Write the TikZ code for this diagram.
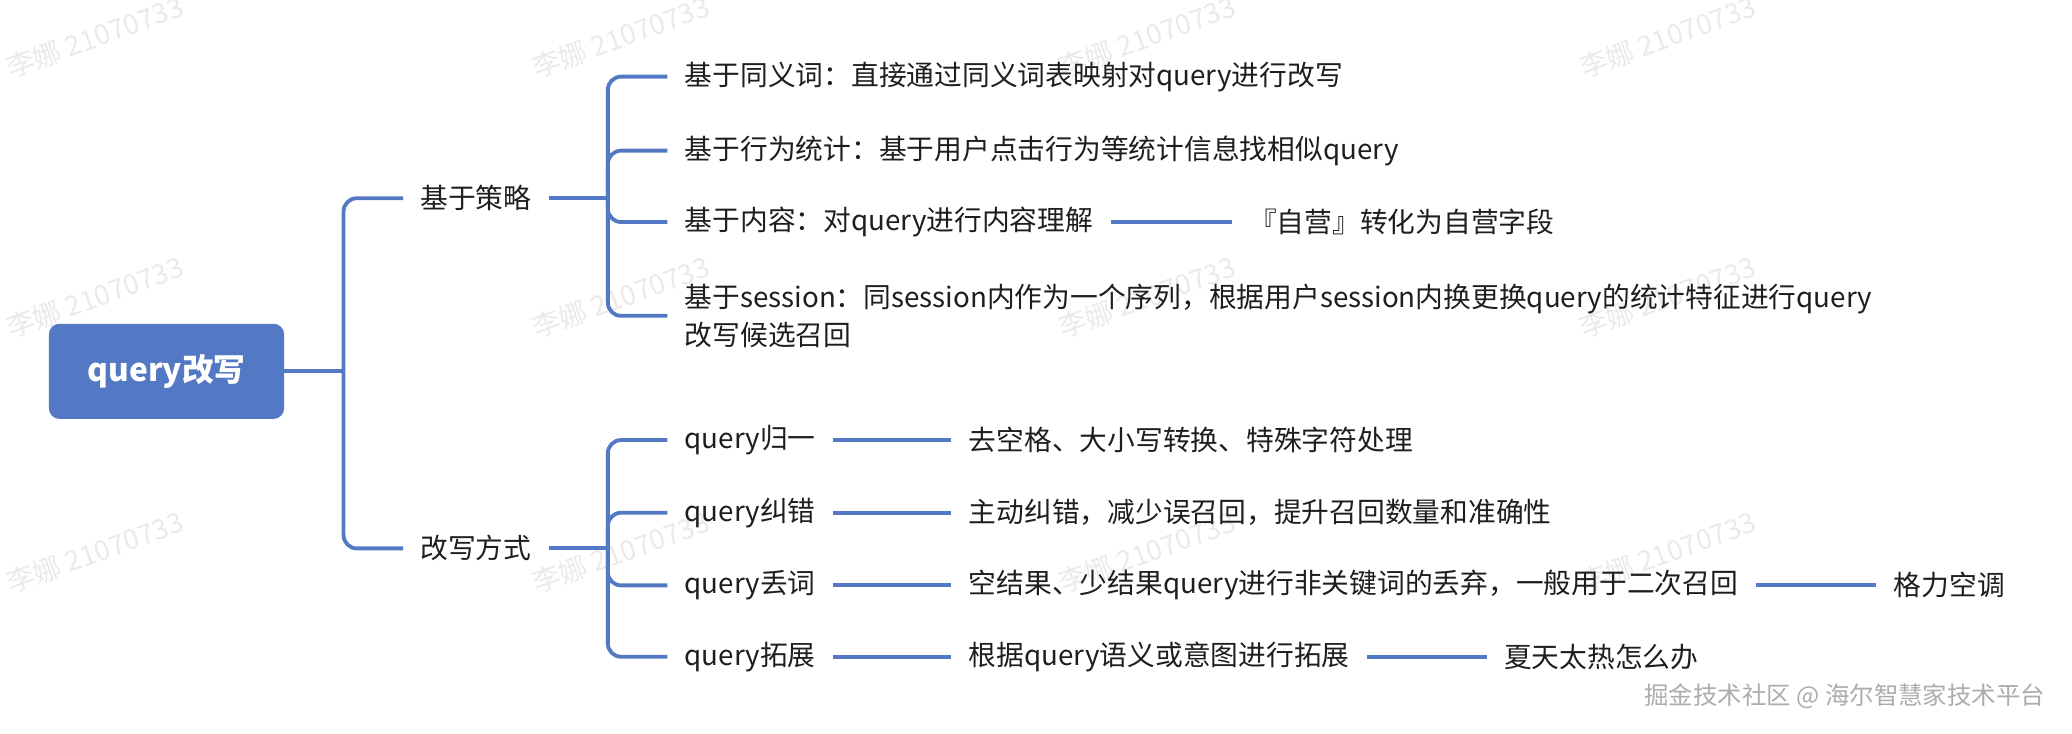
\documentclass[tikz,border=0pt]{standalone}
\usepackage{fontspec}
\setmainfont{Noto Sans CJK SC}
\definecolor{mblue}{RGB}{84,121,196}
\definecolor{txt}{RGB}{30,30,30}
\definecolor{wmark}{RGB}{234,234,234}
\begin{document}
\begin{tikzpicture}[x=1pt,y=-1pt,
  conn/.style={draw=mblue,line width=2.9pt},
  lbl/.style={anchor=west,inner xsep=13pt,inner ysep=3pt,text=txt,font=\fontsize{21}{29}\selectfont,align=left},
  rootbox/.style={rectangle,rounded corners=8pt,fill=mblue,text=white,minimum width=178pt,minimum height=72pt,font=\fontsize{24}{28}\selectfont\bfseries},
  wm/.style={rotate=20,text=wmark,font=\fontsize{21}{24}\selectfont},
  foot/.style={text=gray!65,font=\fontsize{18.5}{22}\selectfont}]
\useasboundingbox (0,0) rectangle (1568,555);
% watermarks
\foreach \x in {72,470,868,1262}{
  \foreach \y in {28,225,418}{
    \node[wm] (wm\x-\y) at (\x,\y) {李娜 21070733};
  }
}
% root
\node[rootbox] (root) at (126,281) {query改写};
% level 1
\node[lbl] (b1) at (305,150) {基于策略};
\node[lbl] (b2) at (305,415) {改写方式};
% level 2 upper
\node[lbl] (c1) at (505,58) {基于同义词：直接通过同义词表映射对query进行改写};
\node[lbl] (c2) at (505,114) {基于行为统计：基于用户点击行为等统计信息找相似query};
\node[lbl] (c3) at (505,168) {基于内容：对query进行内容理解};
\node[lbl] (c4) at (505,239) {基于session：同session内作为一个序列，根据用户session内换更换query的统计特征进行query\\改写候选召回};
\node[lbl] (c3a) at (932,168) {『自营』转化为自营字段};
% level 2 lower
\node[lbl] (d1) at (505,333) {query归一};
\node[lbl] (d2) at (505,388) {query纠错};
\node[lbl] (d3) at (505,443) {query丢词};
\node[lbl] (d4) at (505,497) {query拓展};
\node[lbl] (e1) at (720,333) {去空格、大小写转换、特殊字符处理};
\node[lbl] (e2) at (720,388) {主动纠错，减少误召回，提升召回数量和准确性};
\node[lbl] (e3) at (720,443) {空结果、少结果query进行非关键词的丢弃，一般用于二次召回};
\node[lbl] (e4) at (720,497) {根据query语义或意图进行拓展};
\node[lbl] (f3) at (1420,443) {格力空调};
\node[lbl] (f4) at (1125,497) {夏天太热怎么办};
% footer
\node[foot] (footer) at (1396,527) {掘金技术社区 @ 海尔智慧家技术平台};
% connectors
\coordinate (j0) at (260,281);
\draw[conn] (root.east) -- (j0);
\draw[conn,rounded corners=10pt] (j0) |- (b1.west);
\draw[conn,rounded corners=10pt] (j0) |- (b2.west);
\coordinate (j1) at (460,150);
\draw[conn] (b1.east) -- (j1);
\foreach \n in {c1,c2,c3,c4}{\draw[conn,rounded corners=10pt] (j1) |- (\n.west);}
\coordinate (j2) at (460,415);
\draw[conn] (b2.east) -- (j2);
\foreach \n in {d1,d2,d3,d4}{\draw[conn,rounded corners=10pt] (j2) |- (\n.west);}
\draw[conn] (c3.east) -- (c3a.west);
\draw[conn] (d1.east) -- (e1.west);
\draw[conn] (d2.east) -- (e2.west);
\draw[conn] (d3.east) -- (e3.west);
\draw[conn] (d4.east) -- (e4.west);
\draw[conn] (e3.east) -- (f3.west);
\draw[conn] (e4.east) -- (f4.west);
\end{tikzpicture}
\end{document}
